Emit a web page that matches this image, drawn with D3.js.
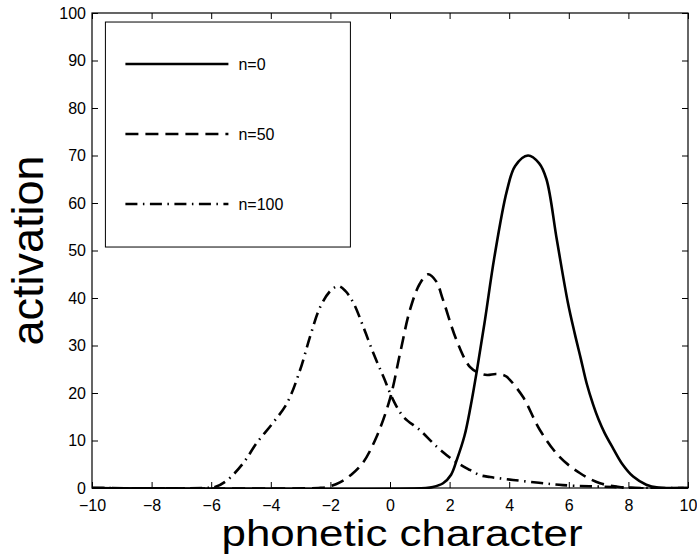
<!DOCTYPE html>
<html>
<head>
<meta charset="utf-8">
<script src="https://cdn.jsdelivr.net/npm/d3@7"></script>
<style>
  body { margin: 0; background: #fff; }
  svg { display: block; font-family: "Liberation Sans", Arial, Helvetica, sans-serif; }
  .axis text { font-size: 16px; fill: #000; }
  .axis line { stroke: #000; stroke-width: 1; }
  .axis path { display: none; }
</style>
</head>
<body>
<div id="chart"></div>
<script>
// values
const seriesNames = ['n=0', 'n=50', 'n=100'];

const xN0 = [-10, 1.2, 1.44, 1.78, 2.05, 2.24, 2.5, 2.7, 2.91, 3.19, 3.5, 3.92, 4.2, 4.63, 5.0, 5.25, 5.6, 5.97, 6.2, 6.4, 6.6, 6.82, 7.0, 7.2, 7.49, 7.8, 8.16, 8.6, 9.0, 10];
const vN0 = [0, 0, 0.2, 1, 2.8, 5.9, 11, 17, 24.5, 35.5, 48.5, 62.5, 67.8, 70, 68.4, 65, 52.2, 39, 32.5, 27.3, 22, 17.5, 14.4, 11.6, 8.3, 5, 2.4, 0.7, 0.1, 0];

const xN50 = [-10, -2.4, -2.1, -1.68, -1.3, -0.9, -0.45, 0, 0.34, 0.67, 1.0, 1.28, 1.55, 1.78, 2.24, 2.68, 3.0, 3.26, 3.55, 3.8, 3.92, 4.46, 5.03, 5.7, 6.38, 7.05, 7.6, 8.0, 10];
const vN50 = [0, 0, 0.2, 1.2, 2.8, 5.4, 10.8, 18.8, 28.4, 37.5, 43, 45, 43.5, 39.6, 31, 25.5, 24.2, 23.8, 24, 23.8, 23.4, 19.2, 12.2, 6.5, 3.1, 1, 0.3, 0, 0];

const xN100 = [-10, -6.2, -5.87, -5.47, -4.93, -4.47, -3.93, -3.46, -3.02, -2.68, -2.35, -2.0, -1.74, -1.5, -1.23, -0.9, -0.56, -0.22, 0.11, 0.45, 1.0, 1.57, 2.12, 2.68, 3.02, 3.36, 4.13, 5.0, 5.8, 7.5, 8.5, 10];
const vN100 = [0, 0, 0.2, 1.6, 5.2, 9.5, 13.7, 17.8, 24.8, 31.9, 38, 41.5, 42.5, 41.5, 39, 34, 28.4, 23.4, 18.5, 15, 12.2, 8.7, 5.9, 3.8, 2.7, 2.3, 1.7, 1.1, 0.6, 0.2, 0, 0];

const xTicks = [-10, -8, -6, -4, -2, 0, 2, 4, 6, 8, 10];
const yTicks = [0, 10, 20, 30, 40, 50, 60, 70, 80, 90, 100];

const DASH_BY_SERIES = {'n=0': null, 'n=50': '13,7', 'n=100': '12,5.5,1.5,5.5'};

const c = {
  svgW: 697, svgH: 556,
  pad: {l: 92, r: 9, t: 13, b: 68},
};
const plotW = c.svgW - c.pad.l - c.pad.r;
const plotH = c.svgH - c.pad.t - c.pad.b;

const series = [
  {name: seriesNames[0], pts: xN0.map((x, i) => [x, vN0[i]])},
  {name: seriesNames[1], pts: xN50.map((x, i) => [x, vN50[i]])},
  {name: seriesNames[2], pts: xN100.map((x, i) => [x, vN100[i]])},
];

const svg = d3.select('#chart')
  .append('svg')
  .attr('width', c.svgW)
  .attr('height', c.svgH);

const chart = svg.append('g')
  .attr('transform', `translate(${c.pad.l}, ${c.pad.t})`);

const xScale = d3.scaleLinear().domain([-10, 10]).range([0, plotW]);
const yScale = d3.scaleLinear().domain([0, 100]).range([plotH, 0]);

// axes, ticks pointing inward on all four sides
chart.append('g')
  .classed('axis', true)
  .attr('transform', `translate(0, ${plotH})`)
  .call(d3.axisBottom(xScale).tickValues(xTicks).tickSizeInner(-6).tickSizeOuter(0).tickPadding(11.5));
chart.append('g')
  .classed('axis', true)
  .call(d3.axisTop(xScale).tickValues(xTicks).tickSizeInner(-6).tickSizeOuter(0).tickFormat(''));
chart.append('g')
  .classed('axis', true)
  .call(d3.axisLeft(yScale).tickValues(yTicks).tickSizeInner(-6).tickSizeOuter(0).tickPadding(6));
chart.append('g')
  .classed('axis', true)
  .attr('transform', `translate(${plotW}, 0)`)
  .call(d3.axisRight(yScale).tickValues(yTicks).tickSizeInner(-6).tickSizeOuter(0).tickFormat(''));

// centripetal catmull-rom keeps the curves smooth through the read points
const line = d3.line()
  .x(d => xScale(d[0]))
  .y(d => Math.min(yScale(d[1]), plotH))
  .curve(d3.curveCatmullRom.alpha(0.5));

chart.append('clipPath')
  .attr('id', 'plot-clip')
  .append('rect')
  .attr('x', 0).attr('y', 0)
  .attr('width', plotW).attr('height', plotH + 1);

chart.append('g')
  .attr('clip-path', 'url(#plot-clip)')
  .selectAll('.curve')
  .data(series)
  .enter()
  .append('path')
  .classed('curve', true)
  .attr('d', d => line(d.pts))
  .attr('fill', 'none')
  .attr('stroke', '#000')
  .attr('stroke-width', 2.6)
  .attr('stroke-dasharray', d => DASH_BY_SERIES[d.name]);

// frame
chart.append('rect')
  .attr('x', 0).attr('y', 0)
  .attr('width', plotW).attr('height', plotH)
  .attr('fill', 'none')
  .attr('stroke', '#000')
  .attr('stroke-width', 1.2);

// legend
const lg = chart.append('g')
  .attr('transform', `translate(${xScale(-9.55)}, ${yScale(98.1)})`);
lg.append('rect')
  .attr('width', 245).attr('height', 225)
  .attr('fill', '#fff')
  .attr('stroke', '#000')
  .attr('stroke-width', 1);
const items = lg.selectAll('.item')
  .data(series)
  .enter()
  .append('g')
  .classed('item', true)
  .attr('transform', (d, i) => `translate(0, ${42 + i * 70})`);
items.append('line')
  .attr('x1', 20).attr('x2', 123)
  .attr('stroke', '#000')
  .attr('stroke-width', 2.6)
  .attr('stroke-dasharray', d => DASH_BY_SERIES[d.name]);
items.append('text')
  .attr('x', 133)
  .attr('dy', '0.35em')
  .style('font-size', '16px')
  .text(d => d.name);

// axis titles
svg.append('text')
  .attr('x', c.pad.l + plotW / 2 + 12)
  .attr('y', 546)
  .attr('text-anchor', 'middle')
  .attr('textLength', 361)
  .attr('lengthAdjust', 'spacingAndGlyphs')
  .style('font-size', '37px')
  .text('phonetic character');
svg.append('text')
  .attr('transform', `translate(43, ${c.pad.t + plotH / 2}) rotate(-90)`)
  .attr('text-anchor', 'middle')
  .style('font-size', '45px')
  .text('activation');
</script>
</body>
</html>
